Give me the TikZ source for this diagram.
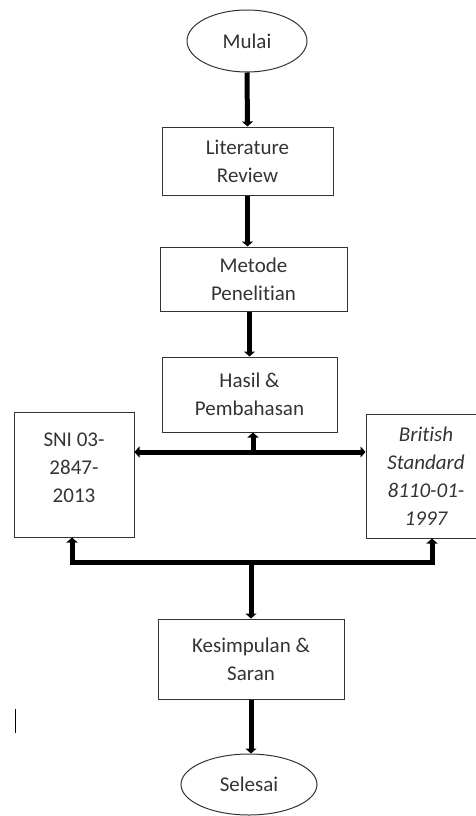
\documentclass[tikz,border=0pt]{standalone}
\usepackage{fontspec}
\setmainfont[Ligatures=NoCommon]{Carlito}
\usetikzlibrary{arrows.meta,shapes.geometric,calc}
\begin{document}
\begin{tikzpicture}[x=1pt,y=1pt,
  box/.style={draw=black!80,line width=1pt,rectangle,align=center,inner sep=0pt,text=black!80,
    font=\fontsize{21}{28}\selectfont},
  oval/.style={draw=black!80,line width=1pt,ellipse,inner sep=0pt,text=black!80,
    font=\fontsize{21}{28}\selectfont},
  arr/.style={line width=5pt,-{Triangle[width=11pt,length=5pt]}},
  arrb/.style={line width=5pt,{Triangle[width=11pt,length=5pt]}-{Triangle[width=11pt,length=5pt]}},
]
\useasboundingbox (0,0) rectangle (476,-816);
\clip (0,0) rectangle (476,-816);
\node[oval,minimum width=120,minimum height=62] (mulai) at (247,-41) {Mulai};
\node[box,minimum width=171,minimum height=68] (lit) at (247.5,-161) {Literature\\Review};
\node[box,minimum width=187,minimum height=64] (met) at (253.5,-279) {Metode\\Penelitian};
\node[box,minimum width=175,minimum height=75] (has) at (249.5,-394.5) {Hasil \&\\Pembahasan};
\node[box,minimum width=120,minimum height=125] (sni) at (74,-474.5) {SNI 03-\\2847-\\2013\rule[-13pt]{0pt}{13pt}};
\node[box,minimum width=120,minimum height=124] (bs) at (426,-476) {\itshape British\\\itshape Standard\\\itshape 8110-01-\\\itshape 1997};
\node[box,minimum width=186,minimum height=80] (kes) at (251,-659) {Kesimpulan \&\\Saran};
\node[oval,minimum width=136,minimum height=61] (sel) at (249,-784.5) {Selesai};

\draw[arr] (mulai.south) -- (lit.north);
\draw[arr] (lit.south) -- (lit.south |- met.north);
\draw[arr] (met.south -| has.north) -- (has.north);
\coordinate (ja) at (253,-452);
\draw[arr] (ja) -- ([xshift=3.5pt]has.south);
\draw[arrb] (ja -| sni.east) -- (ja -| bs.west);
\coordinate (jb) at (251,-562);
\draw[arrb,line join=miter] ([xshift=-2pt]sni.south) |- (jb) -| ([xshift=6pt]bs.south);
\draw[arr] (jb) -- (kes.north);
\draw[arr] (kes.south) -- (kes.south |- sel.north);
\coordinate (c1) at (15,-709);
\coordinate (c2) at (15,-733);
\draw[line width=1pt] (c1) -- (c2);
\end{tikzpicture}
\end{document}
